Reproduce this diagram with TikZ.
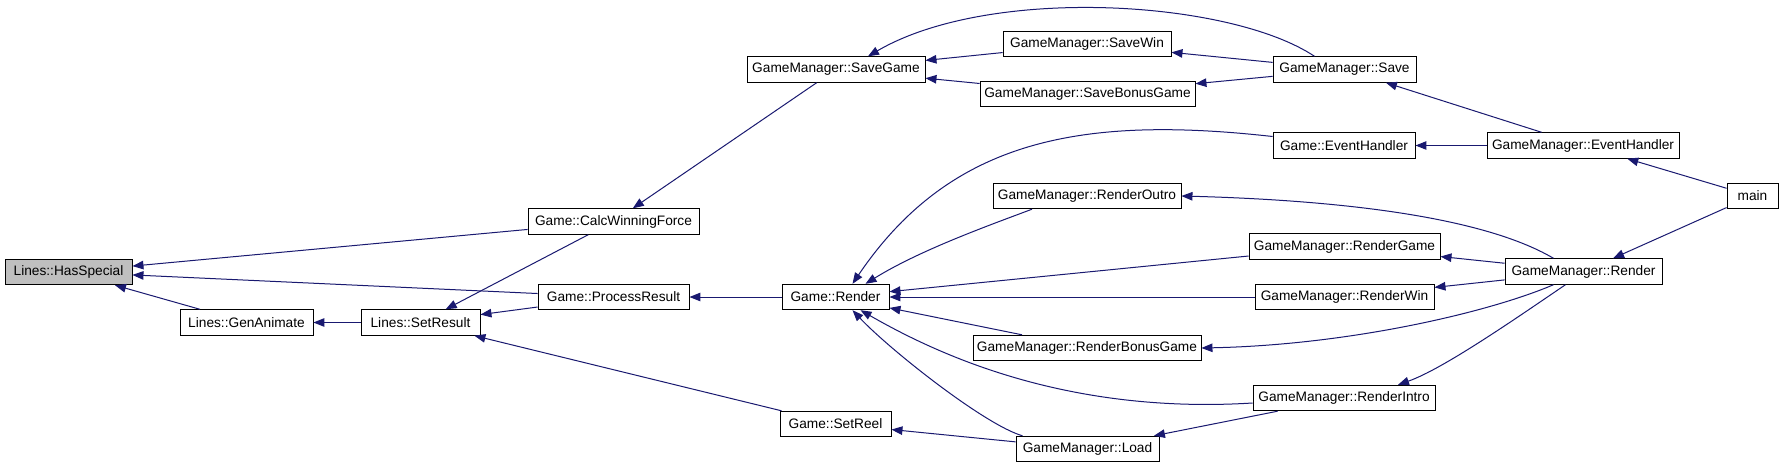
\documentclass[tikz,border=0pt]{standalone}
\usepackage{fontspec}
\setmainfont{Liberation Sans}
\usetikzlibrary{arrows.meta}
\definecolor{cedge}{HTML}{191970}
\definecolor{cfocus}{HTML}{BFBFBF}
\tikzset{
  fbox/.style={draw=black, line width=0.9pt, fill=white, inner sep=2pt,
               minimum height=25.5pt, font=\fontsize{13.7pt}{16pt}\selectfont},
  nfocus/.style={fbox, fill=cfocus},
  call/.style={-{Triangle[length=11pt, width=8.5pt]}, draw=cedge, line width=1pt},
}

\begin{document}
\begin{tikzpicture}[x=1pt, y=-1pt]
  \path[use as bounding box, fill=white] (0,0) rectangle (1783,468);
  % Lines / Game
  \node[nfocus, minimum width=127pt] (hasspecial) at (68.5,272) {Lines::HasSpecial};
  \node[fbox, minimum width=133pt] (genanimate) at (246.5,322.5) {Lines::GenAnimate};
  \node[fbox, minimum width=119pt] (setresult) at (420.5,322.5) {Lines::SetResult};
  \node[fbox, minimum width=171pt] (calcforce) at (613.5,221.5) {Game::CalcWinningForce};
  \node[fbox, minimum width=151pt] (procresult) at (613.5,297) {Game::ProcessResult};
  \node[fbox, minimum width=107pt] (grender) at (835.5,297) {Game::Render};
  \node[fbox, minimum width=111pt] (setreel) at (835.5,424) {Game::SetReel};
  \node[fbox, minimum width=142pt] (geventh) at (1344,145.5) {Game::EventHandler};
  % GameManager
  \node[fbox, minimum width=178pt] (savegame) at (836,69.5) {GameManager::SaveGame};
  \node[fbox, minimum width=168pt] (savewin) at (1087,44) {GameManager::SaveWin};
  \node[fbox, minimum width=215pt] (savebonus) at (1087.5,94) {GameManager::SaveBonusGame};
  \node[fbox, minimum width=143pt] (gmsave) at (1344.5,69.5) {GameManager::Save};
  \node[fbox, minimum width=192pt] (gmeventh) at (1583,145.5) {GameManager::EventHandler};
  \node[fbox, minimum width=188pt] (routro) at (1087,196) {GameManager::RenderOutro};
  \node[fbox, minimum width=191pt] (rgame) at (1344.5,246.5) {GameManager::RenderGame};
  \node[fbox, minimum width=179pt] (rwin) at (1344.5,297) {GameManager::RenderWin};
  \node[fbox, minimum width=228pt] (rbonus) at (1087,348) {GameManager::RenderBonusGame};
  \node[fbox, minimum width=182pt] (rintro) at (1344,398) {GameManager::RenderIntro};
  \node[fbox, minimum width=143pt] (gmload) at (1087.5,449) {GameManager::Load};
  \node[fbox, minimum width=157pt] (gmrender) at (1583.5,271.5) {GameManager::Render};
  \node[fbox, minimum width=51pt] (mainfn) at (1752.5,196) {main};
  % straight calls
  \foreach \a/\b in {calcforce/hasspecial, procresult/hasspecial, genanimate/hasspecial,
                     setresult/genanimate, savegame/calcforce, calcforce/setresult,
                     procresult/setresult, setreel/setresult, grender/procresult,
                     savewin/savegame, savebonus/savegame, gmsave/savewin, gmsave/savebonus,
                     gmeventh/gmsave, gmeventh/geventh, mainfn/gmeventh, mainfn/gmrender,
                     rgame/grender, rwin/grender, rbonus/grender, gmload/setreel,
                     gmrender/rgame, gmrender/rwin, rintro/gmload}
     \draw[call] (\a)--(\b);
  % curved calls
  \draw[call] ([xshift=-55pt]routro.south) .. controls (990,225) and (920,250) .. ([xshift=30pt]grender.north);
  \draw[call] ([xshift=-30pt]gmsave.north) .. controls (1230,0) and (990,-15) .. ([xshift=32pt]savegame.north);
  \draw[call] ([yshift=9pt]geventh.west) .. controls (1080,115) and (950,140) .. ([xshift=17pt]grender.north);
  \draw[call] ([yshift=-5pt]rintro.west) .. controls (1060,415) and (930,350) .. ([xshift=25pt]grender.south);
  \draw[call] ([xshift=-65pt]gmload.north) .. controls (985,425) and (890,350) .. ([xshift=17pt]grender.south);
  \draw[call] ([xshift=-30pt]gmrender.north) .. controls (1480,215) and (1330,200) .. (routro.east);
  \draw[call] ([xshift=-30pt]gmrender.south) .. controls (1490,312) and (1350,345) .. (rbonus.east);
  \draw[call] ([xshift=-18pt]gmrender.south) .. controls (1515,319) and (1443,369) .. ([xshift=54pt]rintro.north);
\end{tikzpicture}
\end{document}
